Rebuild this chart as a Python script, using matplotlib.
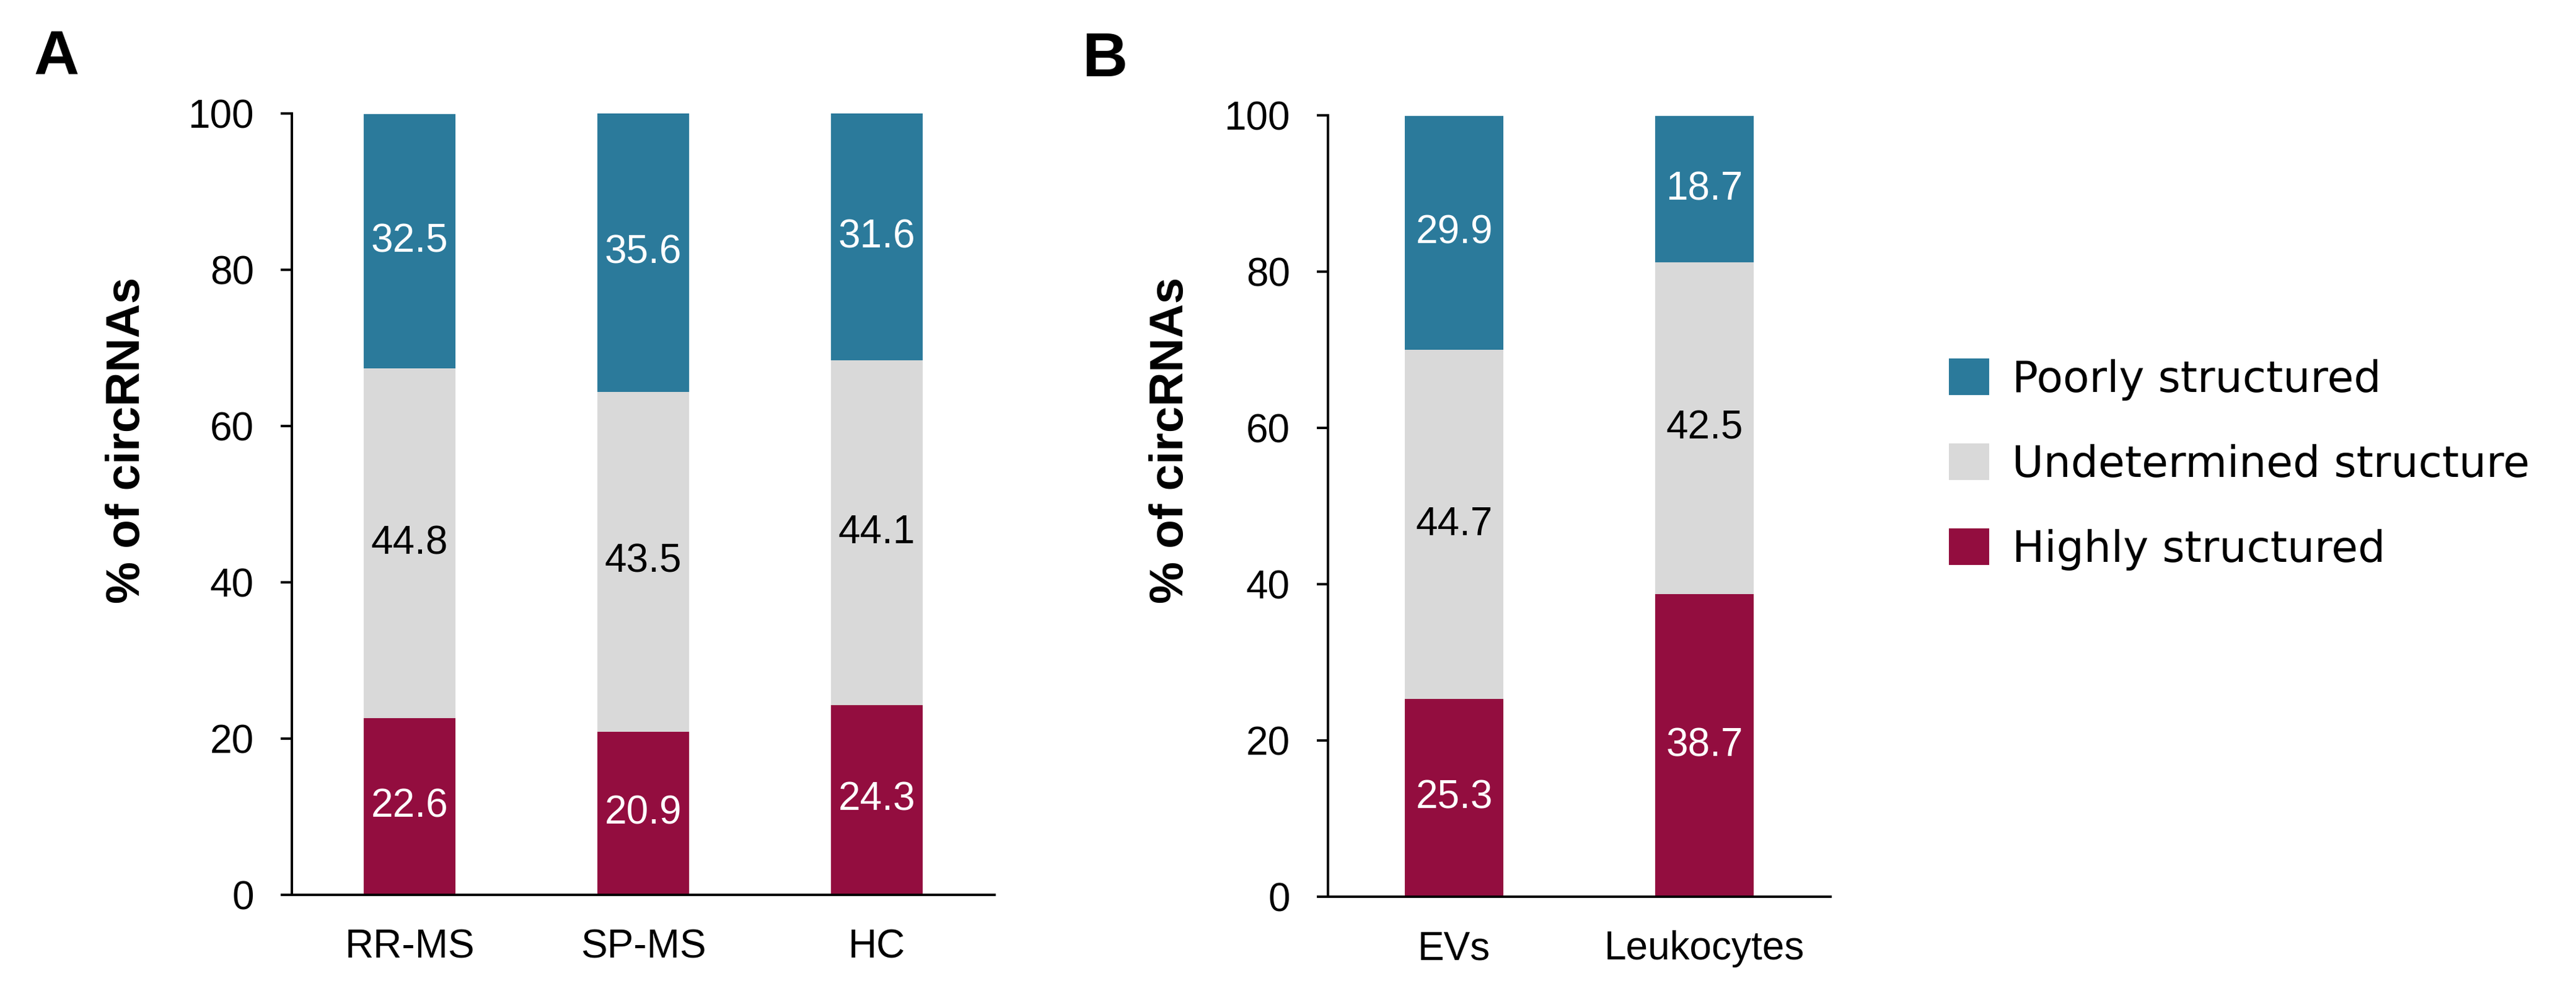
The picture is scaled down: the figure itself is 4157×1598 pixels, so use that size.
import matplotlib
matplotlib.use("Agg")
import matplotlib.pyplot as plt
import numpy as np

# Panel A data (% of circRNAs)
groups_a = ["RR-MS", "SP-MS", "HC"]
highly_a = [22.6, 20.9, 24.3]
undetermined_a = [44.8, 43.5, 44.1]
poorly_a = [32.5, 35.6, 31.6]

# Panel B data
groups_b = ["EVs", "Leukocytes"]
highly_b = [25.3, 38.7]
undetermined_b = [44.7, 42.5]
poorly_b = [29.9, 18.7]

series_names = ["Highly structured", "Undetermined structure", "Poorly structured"]
colors = ["#930D3F", "#D9D9D9", "#2B7A9B"]
text_colors = ["white", "black", "white"]
yticks = [0, 20, 40, 60, 80, 100]

W, H = 4157, 1598
DPI = 100
ARIAL = "Liberation Sans"

fig = plt.figure(figsize=(W / DPI, H / DPI), dpi=DPI)


def px_axes(left, right, bottom, top):
    return fig.add_axes([left / W, 1 - bottom / H, (right - left) / W, (bottom - top) / H])


def draw_panel(ax, groups, stacks, width):
    x = np.arange(len(groups))
    bottom = np.zeros(len(groups))
    handles = []
    for vals, name, col, tcol in zip(stacks, series_names, colors, text_colors):
        vals = np.asarray(vals, dtype=float)
        bars = ax.bar(x, vals, width=width, bottom=bottom, color=col,
                      edgecolor="none", label=name)
        handles.append(bars)
        for xi, b, v in zip(x, bottom, vals):
            ax.text(xi, b + v / 2, f"{v:.1f}", ha="center", va="center",
                    color=tcol, fontsize=46, family=ARIAL)
        bottom += vals

    ax.set_xlim(-0.504, len(groups) - 0.496)
    ax.set_ylim(0, 100)
    ax.set_yticks(yticks)
    ax.set_xticks(x)
    ax.set_xticklabels(groups, family=ARIAL, fontsize=46)
    ax.set_yticklabels([str(t) for t in yticks], family=ARIAL, fontsize=46)

    for side in ["top", "right"]:
        ax.spines[side].set_visible(False)
    for side in ["left", "bottom"]:
        ax.spines[side].set_linewidth(2.8)
        ax.spines[side].set_color("black")

    ax.tick_params(axis="y", direction="out", length=13, width=2.8, pad=31)
    ax.tick_params(axis="x", length=0, pad=39)
    return handles


ax_a = px_axes(471, 1605, 1443, 183)
handles = draw_panel(ax_a, groups_a, [highly_a, undetermined_a, poorly_a], 0.393)

ax_b = px_axes(2143, 2954, 1446, 186)
draw_panel(ax_b, groups_b, [highly_b, undetermined_b, poorly_b], 0.395)

# axis titles
fig.text(205 / W, 1 - 710 / H, "% of circRNAs", rotation=90, ha="center", va="center",
         fontsize=55, fontweight="bold", family=ARIAL)
fig.text(1890 / W, 1 - 710 / H, "% of circRNAs", rotation=90, ha="center", va="center",
         fontsize=55, fontweight="bold", family=ARIAL)

# panel letters
fig.text(54 / W, 1 - 48 / H, "A", ha="left", va="top", fontsize=73,
         fontweight="bold", family=ARIAL)
fig.text(1746 / W, 1 - 50 / H, "B", ha="left", va="top", fontsize=73,
         fontweight="bold", family=ARIAL)

# legend, top entry = Poorly structured
leg = fig.legend(handles[::-1], series_names[::-1], loc="center left",
                 bbox_to_anchor=(3145 / W, 1 - 749 / H), frameon=False,
                 prop={"family": "DejaVu Sans", "size": 50},
                 handlelength=0.93, handleheight=0.93, handletextpad=0.54,
                 labelspacing=1.0, borderpad=0, borderaxespad=0)

fig.savefig("out.png", dpi=DPI, facecolor="white")
